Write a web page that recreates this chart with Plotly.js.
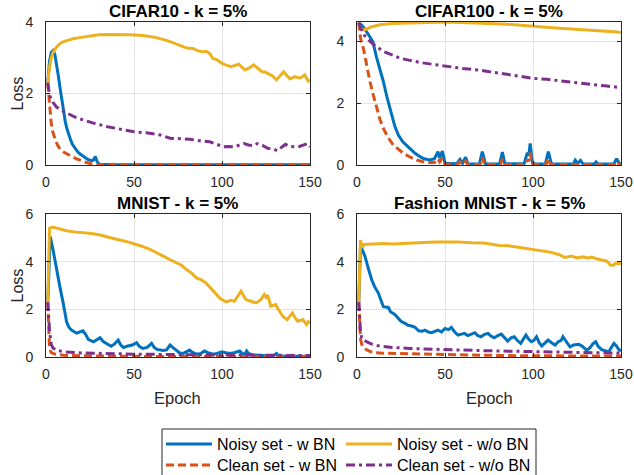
<!DOCTYPE html>
<html>
<head>
<meta charset="utf-8">
<script src="https://cdn.plot.ly/plotly-3.0.1.min.js"></script>
<style>html,body{margin:0;padding:0;background:#fff;}#chart{width:634px;height:475px;}</style>
</head>
<body>
<div id="chart"></div>
<script>
// ---------- data ----------
const panelTitles = ["CIFAR10 - k = 5%", "CIFAR100 - k = 5%", "MNIST - k = 5%", "Fashion MNIST - k = 5%"];
const seriesNames = ["Noisy set - w BN", "Clean set - w BN", "Noisy set - w/o BN", "Clean set - w/o BN"];
const xTicks = [0, 50, 100, 150];
const yTicksTop = [0, 2, 4];
const yTicksBottom = [0, 2, 4, 6];

// CIFAR10
const c10_noisyBN_ep = [1,2,3,4,5,6,7,8,9,10,11,12,13,14,15,16,17,18,19,20,21,22,23,24,25,26,27,28,29,30,31,40,60,80,100,120,150];
const c10_noisyBN    = [2.3,2.9,3.15,3.2,3.1,2.85,2.5,2.15,1.8,1.45,1.2,1.0,0.82,0.7,0.58,0.5,0.43,0.37,0.32,0.28,0.24,0.21,0.18,0.15,0.13,0.12,0.14,0.24,0.1,0.03,0.02,0.01,0.01,0.01,0.01,0.01,0.01];
const c10_cleanBN_ep = [1,2,3,4,5,6,7,8,10,12,15,18,20,23,26,30,40,60,80,100,120,150];
const c10_cleanBN    = [2.3,1.6,1.15,0.9,0.75,0.62,0.52,0.45,0.36,0.3,0.23,0.16,0.12,0.07,0.03,0.01,0.005,0.005,0.005,0.005,0.005,0.005];
const c10_noisyNoBN_ep = [1,2,3,4,6,8,10,13,16,20,25,30,36,42,48,55,62,69,72,76,80,83.6,86,89,91,93,94.8,97,100,102,104.9,107,109.6,111,113,115,118,120,122.7,124.5,126.5,128.5,131,133,135,137,138.6,141.5,144.3,147,149,150];
const c10_noisyNoBN    = [2.3,2.75,3.0,3.15,3.3,3.4,3.45,3.5,3.54,3.57,3.61,3.64,3.65,3.65,3.64,3.62,3.57,3.48,3.42,3.36,3.27,3.26,3.2,3.17,3.18,3.12,2.98,2.95,2.84,2.8,2.75,2.78,2.82,2.75,2.66,2.7,2.8,2.72,2.61,2.6,2.56,2.5,2.38,2.5,2.61,2.5,2.41,2.47,2.43,2.52,2.35,2.38];
const c10_cleanNoBN_ep = [1,2,3,4,6,8,12,16,20,27,35,42,50,57,65,70.5,76,81.8,87,93,97,101,104,107,110,112.6,115,118,120,123,126,129,131.5,134,136,138.5,141,144,146.5,148.6,150];
const c10_cleanNoBN    = [2.3,1.95,1.85,1.75,1.62,1.55,1.45,1.35,1.28,1.17,1.07,1.0,0.93,0.9,0.84,0.75,0.73,0.72,0.68,0.65,0.58,0.51,0.52,0.51,0.56,0.6,0.56,0.54,0.6,0.55,0.47,0.45,0.4,0.5,0.58,0.52,0.51,0.52,0.56,0.6,0.51];

// CIFAR100
const c100_noisyBN_ep = [1,3,5.5,7,9,11,13,15,17,19.7,21.5,23.5,26,30,33,35.8,38,41.5,44,46,47,48.5,50,55,57,58.5,60,61.7,63,69.5,71.2,73,81,82.6,84,95,96.8,97.6,98.4,99.6,101,107,108.7,110.5,123,124,125.5,127,128.5,135,135.8,137,146,147.5,149,150];
const c100_noisyBN    = [4.6,4.5,4.3,4.15,3.99,3.5,3.1,2.69,2.2,1.61,1.25,0.97,0.75,0.54,0.38,0.27,0.2,0.16,0.2,0.43,0.22,0.45,0.06,0.04,0.06,0.18,0.06,0.25,0.04,0.03,0.43,0.04,0.03,0.42,0.04,0.05,0.4,0.3,0.7,0.1,0.03,0.03,0.43,0.03,0.03,0.16,0.05,0.15,0.03,0.03,0.1,0.03,0.04,0.2,0.06,0.02];
const c100_cleanBN_ep = [1,2,3.6,5.5,7.4,9.3,11.2,13,15,17.5,20.6,23.5,26.3,30,33.9,37,40,44,46,47,48.5,50,57,58.5,60,61.7,63,70,71.2,72.5,81.5,82.6,84,96,96.8,97.6,98.4,99.6,101,107.5,108.7,110,146.5,147.5,149,150];
const c100_cleanBN    = [4.6,4.1,3.77,3.2,2.69,2.25,1.83,1.48,1.18,0.9,0.65,0.5,0.38,0.26,0.16,0.11,0.08,0.08,0.2,0.1,0.22,0.03,0.02,0.1,0.02,0.12,0.02,0.02,0.25,0.02,0.02,0.2,0.02,0.02,0.18,0.12,0.4,0.05,0.02,0.02,0.2,0.02,0.02,0.1,0.02,0.01];
const c100_noisyNoBN_ep = [1,2,3,5,8,13,20,32,45,55,65,69,75,85,95,99,104,113,122,131,140,148,150];
const c100_noisyNoBN    = [4.6,4.45,4.37,4.38,4.46,4.53,4.57,4.6,4.61,4.61,4.6,4.58,4.57,4.55,4.52,4.49,4.47,4.43,4.4,4.35,4.32,4.3,4.27];
const c100_cleanNoBN_ep = [1,3,5,7.4,10,15,20,24.4,30,36,43.4,51.3,60,70,80,89,100,108,115,121,125,131,136.6,142,150];
const c100_cleanNoBN    = [4.6,4.3,4.12,3.99,3.87,3.67,3.55,3.45,3.38,3.31,3.25,3.18,3.12,3.06,2.97,2.9,2.8,2.77,2.72,2.69,2.64,2.6,2.58,2.55,2.5];

// MNIST
const mn_noisyBN_ep = [1,2.4,4,6,8,9.8,11.7,13,14.5,17.4,19,21,22.5,24,27,29,30.7,32.5,34.5,37,39,41,42.5,44,46,49,51.5,53,55,57.5,60,61.5,63,66.6,68.5,70.5,72,74,76,78,80,81.6,83,85.6,88,90,92,95,97,100,102,104.5,107,110,111.5,113,114,115,118,121,125,129,131,132,135,150];
const mn_noisyBN    = [2.3,5.05,4.5,3.65,2.9,2.25,1.48,1.25,1.13,1.0,1.05,1.1,0.95,0.74,0.64,0.72,0.81,0.65,0.57,0.45,0.55,0.71,0.5,0.4,0.45,0.5,0.6,0.45,0.36,0.4,0.57,0.4,0.32,0.27,0.3,0.5,0.4,0.29,0.17,0.15,0.22,0.29,0.2,0.12,0.15,0.25,0.18,0.12,0.15,0.22,0.18,0.15,0.18,0.25,0.15,0.12,0.25,0.15,0.08,0.06,0.05,0.05,0.15,0.05,0.04,0.03];
const mn_cleanBN_ep = [1,2,3,5,10,20,40,80,150];
const mn_cleanBN    = [2.3,0.35,0.18,0.12,0.07,0.05,0.03,0.02,0.01];
const mn_noisyNoBN_ep = [1,2,3.7,6,8,11.7,16,21,26,30.7,35,40,45,49.6,54,59,64,68,70.5,74,77,80,83,85.6,88,91,94,96.6,99,102.3,105,107,108.5,110.8,112,113.6,116,119.3,122,124,125,126,127.7,130.5,132,134.5,137,140,141.5,143,146,148,149,150];
const mn_noisyNoBN    = [2.3,5.4,5.45,5.4,5.35,5.3,5.25,5.22,5.18,5.12,5.03,4.94,4.86,4.77,4.66,4.52,4.35,4.18,4.08,3.95,3.85,3.66,3.5,3.31,3.25,3.1,2.85,2.62,2.45,2.31,2.38,2.34,2.5,2.76,2.6,2.41,2.35,2.27,2.4,2.62,2.5,2.6,2.13,2.2,2.0,1.71,1.57,1.85,1.65,1.5,1.57,1.36,1.48,1.43];
const mn_cleanNoBN_ep = [1,2,3,4,6,10,20,35,50,75,100,125,150];
const mn_cleanNoBN    = [2.3,1.1,0.52,0.38,0.28,0.22,0.17,0.14,0.12,0.1,0.08,0.07,0.06];

// Fashion MNIST
const fm_noisyBN_ep = [1,2,3,4.6,6.5,8.4,10,12.2,13.5,15,17.8,19,20.6,22,23.5,25,27.3,29,31,33,35,37,38.6,40.5,42.4,44,46,48,50,52,53.6,55.5,57.4,59,61,63,65,67,68.5,70.5,72.5,74.5,76,78,80,82,84,85.6,87.5,89.4,91,93,94.5,96,97.5,99,100.5,102,103.5,105,107,108.6,110.5,112.6,114.5,116,117,118.5,120,121,123,126,128,130.6,132.5,134,135.6,137,139,141,143,144.5,146,147.5,149,150];
const fm_noisyBN    = [2.3,4.63,4.5,4.21,3.7,3.23,2.95,2.67,2.4,2.11,2.08,1.9,1.83,1.75,1.62,1.5,1.41,1.33,1.3,1.25,1.1,1.08,1.13,1.05,1.02,1.08,1.13,1.05,1.2,1.15,1.24,1.05,0.92,0.95,0.99,0.9,0.95,1.02,0.9,0.85,0.95,0.99,0.88,0.81,0.9,0.96,0.8,0.67,0.8,0.85,0.7,0.57,0.75,0.92,0.75,0.64,0.7,0.85,0.6,0.46,0.6,0.71,0.6,0.5,0.65,0.7,0.85,0.7,0.55,0.43,0.5,0.53,0.45,0.28,0.4,0.55,0.64,0.45,0.31,0.25,0.21,0.4,0.57,0.45,0.28,0.3];
const fm_cleanBN_ep = [1,2,3,4,5.5,8,10,15,21,30,37,50,75,100,125,150];
const fm_cleanBN    = [2.3,0.75,0.45,0.38,0.3,0.22,0.18,0.16,0.15,0.13,0.12,0.09,0.07,0.05,0.04,0.04];
const fm_noisyNoBN_ep = [1,2,3,4,6,10,15,20,29,38,45,51,57.5,65,71.8,76.5,81,86,90.7,95.5,100,105,109.7,114.6,118,122,124.8,128.6,131,133.5,136,139,142,144,145.6,147,150];
const fm_noisyNoBN    = [2.3,4.91,4.6,4.72,4.73,4.75,4.76,4.74,4.76,4.8,4.83,4.84,4.82,4.79,4.78,4.73,4.68,4.67,4.62,4.56,4.5,4.44,4.4,4.3,4.18,4.24,4.16,4.2,4.15,4.19,4.12,4.07,4.02,3.86,3.85,3.93,3.92];
const fm_cleanNoBN_ep = [1,2,2.7,4,6,8,12,16,20,30,40,50,75,100,125,150];
const fm_cleanNoBN    = [2.3,1.0,0.8,0.7,0.62,0.55,0.47,0.42,0.4,0.36,0.33,0.31,0.26,0.22,0.19,0.16];

// ---------- build ----------
const panels = [
  [[c10_noisyBN_ep,c10_noisyBN],[c10_cleanBN_ep,c10_cleanBN],[c10_noisyNoBN_ep,c10_noisyNoBN],[c10_cleanNoBN_ep,c10_cleanNoBN]],
  [[c100_noisyBN_ep,c100_noisyBN],[c100_cleanBN_ep,c100_cleanBN],[c100_noisyNoBN_ep,c100_noisyNoBN],[c100_cleanNoBN_ep,c100_cleanNoBN]],
  [[mn_noisyBN_ep,mn_noisyBN],[mn_cleanBN_ep,mn_cleanBN],[mn_noisyNoBN_ep,mn_noisyNoBN],[mn_cleanNoBN_ep,mn_cleanNoBN]],
  [[fm_noisyBN_ep,fm_noisyBN],[fm_cleanBN_ep,fm_cleanBN],[fm_noisyNoBN_ep,fm_noisyNoBN],[fm_cleanNoBN_ep,fm_cleanNoBN]]
];
const colors = ["#0072BD", "#D95319", "#EDB120", "#7E2F8E"];
const dashes = ["solid", "8px,4px", "solid", "9px,4px,3px,4px"];
const legendOf = ["legend", "legend2", "legend3", "legend4"];

const traces = [];
panels.forEach((p, pi) => {
  [0, 1, 2, 3].forEach(si => {
    const [xs, ys] = p[si];
    if (xs.length !== ys.length) throw new Error("length mismatch panel " + pi + " series " + si + ": " + xs.length + " vs " + ys.length);
    const suf = pi === 0 ? "" : String(pi + 1);
    traces.push({
      x: xs, y: ys, type: "scatter", mode: "lines",
      name: seriesNames[si],
      xaxis: "x" + suf, yaxis: "y" + suf,
      line: {color: colors[si], width: 3, dash: dashes[si]},
      showlegend: pi === 0,
      legend: legendOf[si],
      hoverinfo: "skip"
    });
  });
});

const W = 634, H = 475;
const colX = [[46, 310], [357, 621]];
const rowY = [[22, 165], [214, 357]];
const px = v => v / W, py = v => 1 - v / H;

const FONT = "Liberation Sans, Arial, Helvetica, sans-serif";
const tickColor = "#262626";

function axX(ci, ri) {
  return {
    domain: [px(colX[ci][0]), px(colX[ci][1])],
    range: [0, 150], tickvals: xTicks, ticktext: xTicks.map(String),
    showline: true, linecolor: tickColor, linewidth: 1, mirror: "ticks",
    ticks: "inside", ticklen: 4, tickcolor: tickColor, tickwidth: 1,
    showgrid: true, gridcolor: "#e3e3e3", gridwidth: 1, zeroline: false,
    tickfont: {family: FONT, size: 14, color: tickColor},
    ticklabelstandoff: 4,
    anchor: "y" + (ci + ri * 2 === 0 ? "" : String(ci + ri * 2 + 1)),
    fixedrange: true
  };
}
function axY(ci, ri, range, ticks) {
  return {
    domain: [py(rowY[ri][1]), py(rowY[ri][0])],
    range: range, tickvals: ticks, ticktext: ticks.map(String),
    showline: true, linecolor: tickColor, linewidth: 1, mirror: "ticks",
    ticks: "inside", ticklen: 4, tickcolor: tickColor, tickwidth: 1,
    showgrid: true, gridcolor: "#e3e3e3", gridwidth: 1, zeroline: false,
    tickfont: {family: FONT, size: 14, color: tickColor},
    ticklabelstandoff: 9,
    anchor: "x" + (ci + ri * 2 === 0 ? "" : String(ci + ri * 2 + 1)),
    fixedrange: true
  };
}

const annotations = [];
panelTitles.forEach((t, i) => {
  const ci = i % 2, ri = Math.floor(i / 2);
  annotations.push({
    text: "<b>" + t + "</b>", xref: "paper", yref: "paper",
    x: px((colX[ci][0] + colX[ci][1]) / 2), y: py(rowY[ri][0] - 11),
    xanchor: "center", yanchor: "middle", showarrow: false,
    font: {family: FONT, size: 17, color: "#000"}
  });
});
[[0, 0], [0, 1]].forEach(([ci, ri]) => {
  annotations.push({
    text: "Loss", xref: "paper", yref: "paper",
    x: px(17), y: py((rowY[ri][0] + rowY[ri][1]) / 2),
    xanchor: "center", yanchor: "middle", textangle: -90, showarrow: false,
    font: {family: FONT, size: 16, color: tickColor}
  });
});
[0, 1].forEach(ci => {
  annotations.push({
    text: "Epoch", xref: "paper", yref: "paper",
    x: px((colX[ci][0] + colX[ci][1]) / 2), y: py(398),
    xanchor: "center", yanchor: "middle", showarrow: false,
    font: {family: FONT, size: 16.5, color: tickColor}
  });
});

const legendCommon = {
  orientation: "v", xanchor: "left", yanchor: "middle",
  bgcolor: "rgba(0,0,0,0)", borderwidth: 0,
  font: {family: FONT, size: 16, color: "#000"},
  itemwidth: 46, traceorder: "normal", itemclick: false, itemdoubleclick: false
};
// legend slots: [column left px, row centre px]
const legendSlots = [[161, 444], [161, 465], [341, 444], [341, 465]];

const layout = {
  width: W, height: H,
  margin: {l: 0, r: 0, t: 0, b: 0, pad: 0, autoexpand: false},
  paper_bgcolor: "#fff", plot_bgcolor: "#fff",
  showlegend: true,
  xaxis: axX(0, 0), yaxis: axY(0, 0, [0, 4], yTicksTop),
  xaxis2: axX(1, 0), yaxis2: axY(1, 0, [0, 4.62], yTicksTop),
  xaxis3: axX(0, 1), yaxis3: axY(0, 1, [0, 6], yTicksBottom),
  xaxis4: axX(1, 1), yaxis4: axY(1, 1, [0, 6], yTicksBottom),
  annotations: annotations,
  shapes: [{
    type: "rect", xref: "paper", yref: "paper",
    x0: px(162), x1: px(536), y0: py(478), y1: py(429),
    line: {color: tickColor, width: 1}, fillcolor: "rgba(0,0,0,0)", layer: "below"
  }]
};
legendOf.forEach((name, i) => {
  layout[name] = Object.assign({}, legendCommon, {x: px(legendSlots[i][0]), y: py(legendSlots[i][1])});
});

Plotly.newPlot("chart", traces, layout, {displayModeBar: false, staticPlot: true});
</script>
</body>
</html>
